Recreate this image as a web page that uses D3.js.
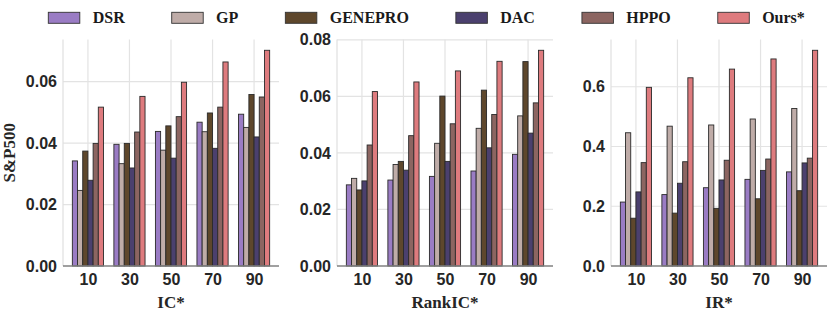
<!DOCTYPE html>
<html>
<head>
<meta charset="utf-8">
<script src="https://cdn.jsdelivr.net/npm/d3@7"></script>
<style>
  body { margin: 0; background: #fff; }
  svg { display: block; }
</style>
</head>
<body>
<svg id="canvas" width="831" height="317"></svg>
<script>
let methods = ['DSR', 'GP', 'GENEPRO', 'DAC', 'HPPO', 'Ours*']
let colors = ['#9a7cc4', '#bfaca8', '#5e472c', '#4b406e', '#8c6561', '#de7b7e']
let categories = ['10', '30', '50', '70', '90']

// one row per method, one value per category
let icValues = [
    [0.0342, 0.0396, 0.0438, 0.0468, 0.0494],
    [0.0246, 0.0333, 0.0377, 0.0437, 0.0451],
    [0.0374, 0.0399, 0.0456, 0.0498, 0.0558],
    [0.0279, 0.0319, 0.0351, 0.0383, 0.0420],
    [0.0399, 0.0436, 0.0486, 0.0517, 0.0550],
    [0.0517, 0.0552, 0.0598, 0.0664, 0.0702]
]
let rankIcValues = [
    [0.0287, 0.0304, 0.0317, 0.0336, 0.0395],
    [0.0310, 0.0359, 0.0434, 0.0487, 0.0531],
    [0.0269, 0.0370, 0.0601, 0.0622, 0.0723],
    [0.0301, 0.0339, 0.0370, 0.0418, 0.0470],
    [0.0428, 0.0461, 0.0503, 0.0536, 0.0577],
    [0.0617, 0.0651, 0.0690, 0.0724, 0.0763]
]
let irValues = [
    [0.214, 0.239, 0.262, 0.290, 0.315],
    [0.446, 0.468, 0.472, 0.492, 0.527],
    [0.160, 0.177, 0.193, 0.225, 0.252],
    [0.248, 0.277, 0.288, 0.320, 0.345],
    [0.346, 0.349, 0.354, 0.358, 0.361],
    [0.598, 0.630, 0.659, 0.693, 0.722]
]

let icTicks = [0, 0.02, 0.04, 0.06]
let rankIcTicks = [0, 0.02, 0.04, 0.06, 0.08]
let irTicks = [0, 0.2, 0.4, 0.6]

let panels = [
    { values: icValues, ticks: icTicks, fmt: '.2f', label: 'IC*', left: 63 },
    { values: rankIcValues, ticks: rankIcTicks, fmt: '.2f', label: 'RankIC*', left: 337 },
    { values: irValues, ticks: irTicks, fmt: '.1f', label: 'IR*', left: 611 }
]

let canvas = d3.select('#canvas')
let plotTop = 39.5
let plotBottom = 266
let panelWidth = 216
let barW = 0.125

let drawPanel = (p) => {
    let g = canvas.append('g')

    let x = d3.scaleLinear()
              .domain([-0.6, 4.6])
              .range([p.left, p.left + panelWidth])
    let maxVal = d3.max(p.values.flat())
    let y = d3.scaleLinear()
              .domain([0, maxVal * 1.05])
              .range([plotBottom, plotTop])

    // grid
    g.selectAll('.hgrid')
        .data(p.ticks.slice(1))
        .enter()
        .append('line')
        .attr('x1', p.left).attr('x2', p.left + panelWidth)
        .attr('y1', (d) => y(d)).attr('y2', (d) => y(d))
        .attr('stroke', '#e3e3e3').attr('stroke-width', 1.2)
    g.selectAll('.vgrid')
        .data(categories)
        .enter()
        .append('line')
        .attr('x1', (d, i) => x(i)).attr('x2', (d, i) => x(i))
        .attr('y1', plotTop).attr('y2', plotBottom)
        .attr('stroke', '#e3e3e3').attr('stroke-width', 1.2)
    g.append('line')
        .attr('x1', p.left).attr('x2', p.left)
        .attr('y1', plotTop).attr('y2', plotBottom)
        .attr('stroke', '#e0e0e0').attr('stroke-width', 1.2)

    // bars
    p.values.forEach((row, m) => {
        g.selectAll('.bar' + m)
            .data(row)
            .enter()
            .append('rect')
            .attr('x', (d, i) => x(i + (m - 3) * barW))
            .attr('width', x(barW) - x(0))
            .attr('y', (d) => y(d))
            .attr('height', (d) => plotBottom - y(d))
            .attr('fill', colors[m])
            .attr('stroke', '#2a2a2a')
            .attr('stroke-width', 0.9)
    })

    // bottom spine
    g.append('line')
        .attr('x1', p.left).attr('x2', p.left + panelWidth)
        .attr('y1', plotBottom).attr('y2', plotBottom)
        .attr('stroke', '#808080').attr('stroke-width', 1.3)

    // axes
    let yAxis = d3.axisLeft(y)
                  .tickValues(p.ticks)
                  .tickFormat(d3.format(p.fmt))
                  .tickSize(0)
                  .tickPadding(6)
    let yg = g.append('g')
              .attr('transform', 'translate(' + p.left + ',0)')
              .call(yAxis)
    let xAxis = d3.axisBottom(x)
                  .tickValues(d3.range(categories.length))
                  .tickFormat((d) => categories[d])
                  .tickSize(0)
                  .tickPadding(8)
    let xg = g.append('g')
              .attr('transform', 'translate(0,' + plotBottom + ')')
              .call(xAxis)
    ;[yg, xg].forEach((a) => {
        a.select('.domain').remove()
        a.selectAll('text')
            .attr('font-family', '"Liberation Sans", Arial, sans-serif')
            .attr('font-weight', 'bold')
            .attr('font-size', '16px')
            .attr('fill', '#262626')
    })

    g.append('text')
        .attr('x', x(2))
        .attr('y', 308)
        .attr('text-anchor', 'middle')
        .attr('font-family', '"Liberation Serif", "Times New Roman", serif')
        .attr('font-weight', 'bold')
        .attr('font-size', '17px')
        .attr('fill', '#262626')
        .text(p.label)
}

panels.forEach(drawPanel)

canvas.append('text')
    .attr('transform', 'translate(15,' + ((plotTop + plotBottom) / 2) + ') rotate(-90)')
    .attr('text-anchor', 'middle')
    .attr('font-family', '"Liberation Serif", "Times New Roman", serif')
    .attr('font-weight', 'bold')
    .attr('font-size', '17px')
    .attr('fill', '#262626')
    .text('S&P500')

// legend across the top
let legend = canvas.append('g')
let lx = 48.3
methods.forEach((name, i) => {
    legend.append('rect')
        .attr('x', lx).attr('y', 12.3)
        .attr('width', 31.5).attr('height', 11)
        .attr('fill', colors[i])
        .attr('stroke', '#333').attr('stroke-width', 0.9)
    let t = legend.append('text')
        .attr('x', lx + 44.4)
        .attr('y', 23)
        .attr('font-family', '"Liberation Serif", "Times New Roman", serif')
        .attr('font-weight', 'bold')
        .attr('font-size', '16px')
        .attr('fill', '#1a1a1a')
        .text(name)
    lx = lx + 44.4 + t.node().getComputedTextLength() + 47
})
</script>
</body>
</html>
